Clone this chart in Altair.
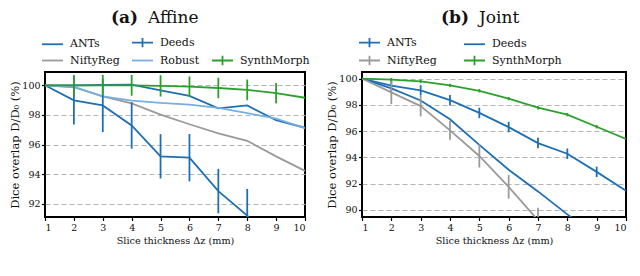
import altair as alt
import pandas as pd

# ---------------- data ----------------
slice_mm = [1, 2, 3, 4, 5, 6, 7, 8, 9, 10]

# (a) Affine
aff_ants = [100.0, 100.0, 100.02, 100.04, 99.66, 99.29, 98.44, 98.64, 97.64, 97.13]
aff_deeds = [100.0, 98.98, 98.64, 97.29, 95.20, 95.11, 92.85, 91.20, 88.5, 87.0]
aff_deeds_err = [0, 1.63, 1.80, 1.57, 1.50, 1.60, 1.50, 1.80, 0, 0]
aff_nifty = [100.0, 99.87, 99.25, 98.78, 98.02, 97.37, 96.75, 96.25, 95.20, 94.22]
aff_robust = [100.0, 99.90, 99.25, 98.96, 98.82, 98.69, 98.48, 98.12, 97.75, 97.10]
aff_synth = [100.0, 100.0, 100.0, 100.0, 99.96, 99.91, 99.82, 99.69, 99.47, 99.16]
aff_synth_err = [0, 0.70, 0.70, 0.70, 0.72, 0.69, 0.69, 0.70, 0.69, 0]

# (b) Joint
jnt_ants = [100.0, 99.47, 99.10, 98.35, 97.38, 96.30, 95.08, 94.27, 92.89, 91.45]
jnt_ants_err = [0, 0.40, 0.40, 0.40, 0.40, 0.40, 0.40, 0.40, 0.40, 0]
jnt_deeds = [100.0, 99.25, 98.33, 96.90, 94.95, 93.05, 91.40, 89.65, 88.0, 86.4]
jnt_nifty = [100.0, 98.95, 97.90, 96.05, 94.10, 91.75, 89.20, 86.8, 84.5, 82.0]
jnt_nifty_err = [0, 0.90, 0.78, 0.72, 0.88, 0.90, 0.95, 1.0, 1.0, 0]
jnt_synth = [100.0, 99.92, 99.78, 99.48, 99.07, 98.47, 97.78, 97.25, 96.33, 95.40]
jnt_synth_err = [0, 0.13, 0.13, 0.13, 0.13, 0.13, 0.13, 0.13, 0.13, 0]

# legend entries, filled column by column (" " is an empty slot)
aff_legend_order = ["ANTs", "NiftyReg", "Deeds", "Robust", " ", "SynthMorph"]
jnt_legend_order = ["ANTs", "NiftyReg", "Deeds", "SynthMorph"]

BLUE = "#1f6fb4"
GRAY = "#9a9a9a"
LIGHT = "#78aee0"
GREEN = "#2ca02c"

LINE = "M-1.4,0H1.4"
CROSS = "M-1.4,0H1.4M0,-0.62V0.62"
EMPTY = "M0,0H0.01"

FONT = "DejaVu Serif"


def build(series):
    rows = []
    for name, ys, errs in series:
        for i, xv in enumerate(slice_mm):
            e = errs[i] if errs is not None else 0
            rows.append({"series": name, "x": xv, "y": ys[i], "err": e,
                         "lo": ys[i] - e, "hi": ys[i] + e})
    return pd.DataFrame(rows)


aff_df = build([
    ("ANTs", aff_ants, None),
    ("Deeds", aff_deeds, aff_deeds_err),
    ("NiftyReg", aff_nifty, None),
    ("Robust", aff_robust, None),
    ("SynthMorph", aff_synth, aff_synth_err),
])
jnt_df = build([
    ("ANTs", jnt_ants, jnt_ants_err),
    ("Deeds", jnt_deeds, None),
    ("NiftyReg", jnt_nifty, jnt_nifty_err),
    ("SynthMorph", jnt_synth, jnt_synth_err),
])

H = 145


def panel(df, domain, colors, shapes, ydom, yticks, tag, name, tag_x, name_x, colpad, width):
    xs = alt.X("x:Q", scale=alt.Scale(domain=[1, 10], nice=False),
               axis=alt.Axis(values=slice_mm, tickCount=20, format="d",
                             title="Slice thickness Δz (mm)", labelOverlap=False))
    ys = alt.Y("y:Q", scale=alt.Scale(domain=ydom, nice=False, zero=False),
               axis=alt.Axis(values=yticks, tickCount=20, format="d",
                             title="Dice overlap D/D₀ (%)", labelOverlap=False))
    cscale = alt.Scale(domain=domain, range=colors)
    sscale = alt.Scale(domain=domain, range=shapes)
    leg = alt.Legend(title=None, orient="none", legendX=-1, legendY=-38,
                     columns=3 if len(domain) > 4 else 2,
                     columnPadding=colpad, rowPadding=1, labelOffset=9, symbolSize=225,
                     symbolStrokeWidth=1.8, symbolOpacity=1, labelFont=FONT, labelFontSize=11,
                     labelColor="#111", symbolFillColor="transparent", padding=0)

    keys = alt.Chart(df).mark_point(opacity=0, filled=False, clip=True, size=10).encode(
        x=xs, y=ys,
        color=alt.Color("series:N", scale=cscale, legend=leg),
        shape=alt.Shape("series:N", scale=sscale, legend=leg))
    lines = alt.Chart(df).mark_line(strokeWidth=1.8, clip=True).encode(
        x="x:Q", y="y:Q", color=alt.Color("series:N", scale=cscale))
    bars = alt.Chart(df).transform_filter("datum.err > 0").mark_rule(strokeWidth=1.8, clip=True).encode(
        x="x:Q", y="lo:Q", y2="hi:Q", color=alt.Color("series:N", scale=cscale))
    t1 = alt.Chart(pd.DataFrame({"t": [tag]})).mark_text(
        align="right", baseline="alphabetic", font=FONT, fontSize=17, fontWeight="bold", color="#111"
    ).encode(x=alt.value(tag_x), y=alt.value(-49), text="t:N")
    t2 = alt.Chart(pd.DataFrame({"t": [name]})).mark_text(
        align="left", baseline="alphabetic", font=FONT, fontSize=17, fontWeight="normal", color="#111"
    ).encode(x=alt.value(name_x), y=alt.value(-49), text="t:N")
    return alt.layer(keys, lines, bars, t1, t2).properties(width=width, height=H)


left = panel(aff_df, aff_legend_order,
             [BLUE, GRAY, BLUE, LIGHT, "transparent", GREEN],
             [LINE, LINE, CROSS, LINE, EMPTY, CROSS],
             [91.1, 100.9], [92, 94, 96, 98, 100], "(a)", "Affine", 93, 103, 8, 260)
right = panel(jnt_df, jnt_legend_order,
              [BLUE, GRAY, BLUE, GREEN],
              [CROSS, CROSS, LINE, CROSS],
              [89.45, 100.5], [90, 92, 94, 96, 98, 100], "(b)", "Joint", 107, 117, 23, 264)

chart = alt.hconcat(left, right, spacing=14).resolve_scale(
    color="independent", shape="independent", x="independent", y="independent"
).properties(padding=0).configure_view(
    stroke="black", strokeWidth=2
).configure_axis(
    domain=False, labelFont=FONT, labelFontSize=9.5, labelColor="#111",
    titleFont=FONT, titleFontWeight="normal", titleColor="#111",
    tickColor="black", tickSize=3.5, tickWidth=1.2, labelPadding=1.5
).configure_axisX(
    grid=False, titleFontSize=9.7, titlePadding=4
).configure_axisY(
    grid=True, gridDash=[5, 3], gridColor="#b4b4b4", gridWidth=1.2,
    titleFontSize=11.5, titlePadding=1
)

chart.save("out.html", embed_options={"renderer": "svg", "actions": False})
